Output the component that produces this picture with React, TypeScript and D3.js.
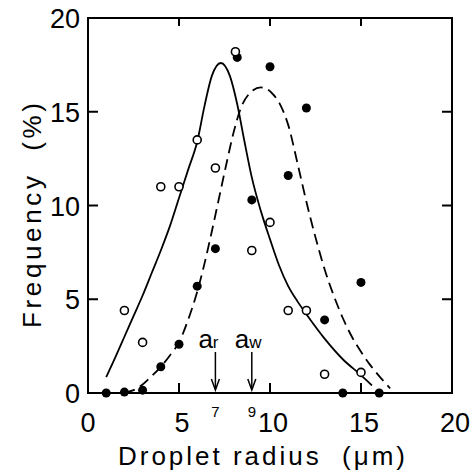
import React from "react";
import * as d3 from "d3";

// droplet radius (um) -> frequency (%)
const openX = [2, 3, 4, 5, 6, 7, 8.1, 9, 10, 11, 12, 13, 15];
const openY = [4.4, 2.7, 11, 11, 13.5, 12, 18.2, 7.6, 9.1, 4.4, 4.4, 1.0, 1.1];
const filledX = [1, 2, 3, 4, 5, 6, 7, 8.2, 9, 10, 11, 12, 13, 14, 15, 16];
const filledY = [0, 0.05, 0.15, 1.4, 2.6, 5.7, 7.7, 17.9, 10.3, 17.4, 11.6, 15.2, 3.9, 0, 5.9, 0];

// fitted curves
const solidX = [1, 1.5, 2, 2.5, 3, 3.5, 4, 4.5, 5, 5.5, 6, 6.4, 6.8, 7.3, 7.8, 8.2, 8.6, 9, 9.5, 10, 10.5, 11, 11.5, 12, 13, 14, 15, 15.6];
const solidY = [0.85, 1.9, 3.0, 4.1, 5.2, 6.4, 7.6, 8.9, 10.4, 11.9, 13.4, 15.3, 16.9, 17.6, 16.9, 15.4, 13.4, 11.5, 9.7, 8.2, 6.8, 5.7, 4.9, 4.2, 2.9, 1.8, 0.95, 0.4];
const dashX = [2, 2.5, 3, 3.5, 4, 4.5, 5, 5.5, 6, 6.4, 6.8, 7.2, 7.6, 8, 8.4, 8.9, 9.5, 10.1, 10.6, 11, 11.5, 12, 12.5, 13, 13.5, 14, 14.5, 15, 15.5, 16, 16.6];
const dashY = [0, 0.15, 0.45, 0.9, 1.4, 2.0, 2.7, 3.9, 5.4, 6.9, 8.6, 10.4, 12.2, 13.9, 15.2, 16.0, 16.3, 16.0, 15.3, 14.3, 12.3, 10.2, 8.3, 6.6, 5.2, 4.0, 3.0, 2.2, 1.5, 0.9, 0.25];

const xTicks = [0, 5, 10, 15, 20];
const yTicks = [0, 5, 10, 15, 20];
const innerTicks = [5, 10, 15];
const markers = [
  { x: 7, main: "a", sub: "r" },
  { x: 9, main: "a", sub: "w" },
];

const W = 470;
const H = 473;
const margin = { left: 88, right: 18, top: 18, bottom: 80 };
const font = "'Liberation Sans', Arial, sans-serif";

export default function App() {
  const x = d3.scaleLinear().domain([0, 20]).range([margin.left, W - margin.right]);
  const y = d3.scaleLinear().domain([0, 20]).range([H - margin.bottom, margin.top]);

  const line = d3
    .line<[number, number]>()
    .x((d) => x(d[0]))
    .y((d) => y(d[1]))
    .curve(d3.curveMonotoneX);

  const solid = solidX.map((v, i) => [v, solidY[i]] as [number, number]);
  const dashed = dashX.map((v, i) => [v, dashY[i]] as [number, number]);

  const x0 = x(0), x1 = x(20), y0 = y(0), y1 = y(20);
  const tickLen = 10;

  return (
    <svg width={W} height={H} style={{ position: "absolute", left: 0, top: 0, background: "#fff" }} fontFamily={font}>
      {/* frame */}
      <rect x={x0} y={y1} width={x1 - x0} height={y0 - y1} fill="none" stroke="#000" strokeWidth={2} />

      {/* inner ticks on all four sides */}
      {innerTicks.map((t) => (
        <g key={"t" + t} stroke="#000" strokeWidth={2}>
          <line x1={x(t)} x2={x(t)} y1={y0} y2={y0 - tickLen} />
          <line x1={x(t)} x2={x(t)} y1={y1} y2={y1 + tickLen - 2} />
          <line x1={x0} x2={x0 + tickLen} y1={y(t)} y2={y(t)} />
          <line x1={x1} x2={x1 - tickLen} y1={y(t)} y2={y(t)} />
        </g>
      ))}

      {/* tick labels */}
      {xTicks.map((t) => (
        <text key={"xl" + t} x={x(t) + (t === 0 ? 0 : 3)} y={y0 + 39} fontSize={27} textAnchor="middle">
          {t}
        </text>
      ))}
      {yTicks.map((t) => (
        <text key={"yl" + t} x={x0 - 8} y={y(t) + 10} fontSize={27} textAnchor="end">
          {t}
        </text>
      ))}

      {/* axis titles */}
      <text x={118} y={465} fontSize={26} textLength={287} lengthAdjust="spacing" xmlSpace="preserve">
        {"Droplet radius  (μm)"}
      </text>
      <text
        transform={`translate(41,328) rotate(-90)`}
        fontSize={26}
        textLength={225}
        lengthAdjust="spacing"
        xmlSpace="preserve"
      >
        {"Frequency  (%)"}
      </text>

      {/* fitted curves */}
      <path d={line(solid) ?? ""} fill="none" stroke="#000" strokeWidth={1.8} />
      <path d={line(dashed) ?? ""} fill="none" stroke="#000" strokeWidth={1.8} strokeDasharray="11,6" />

      {/* data points */}
      {filledX.map((v, i) => (
        <circle key={"f" + i} cx={x(v)} cy={y(filledY[i])} r={4.5} fill="#000" />
      ))}
      {openX.map((v, i) => (
        <circle key={"o" + i} cx={x(v)} cy={y(openY[i])} r={4} fill="#fff" stroke="#000" strokeWidth={1.6} />
      ))}

      {/* mean radius markers */}
      {markers.map((m) => (
        <g key={m.sub}>
          <text x={x(m.x) - 17} y={y0 - 45} fontSize={26}>
            {m.main}
            <tspan fontSize={17}>{m.sub}</tspan>
          </text>
          <line x1={x(m.x)} x2={x(m.x)} y1={y0 - 41} y2={y0 - 4} stroke="#000" strokeWidth={1.5} />
          <path
            d={`M${x(m.x) - 4},${y0 - 14} L${x(m.x)},${y0 - 3} L${x(m.x) + 4},${y0 - 14}`}
            fill="none"
            stroke="#000"
            strokeWidth={1.5}
          />
          <text x={x(m.x)} y={y0 + 24} fontSize={15} textAnchor="middle">
            {m.x}
          </text>
        </g>
      ))}
    </svg>
  );
}
